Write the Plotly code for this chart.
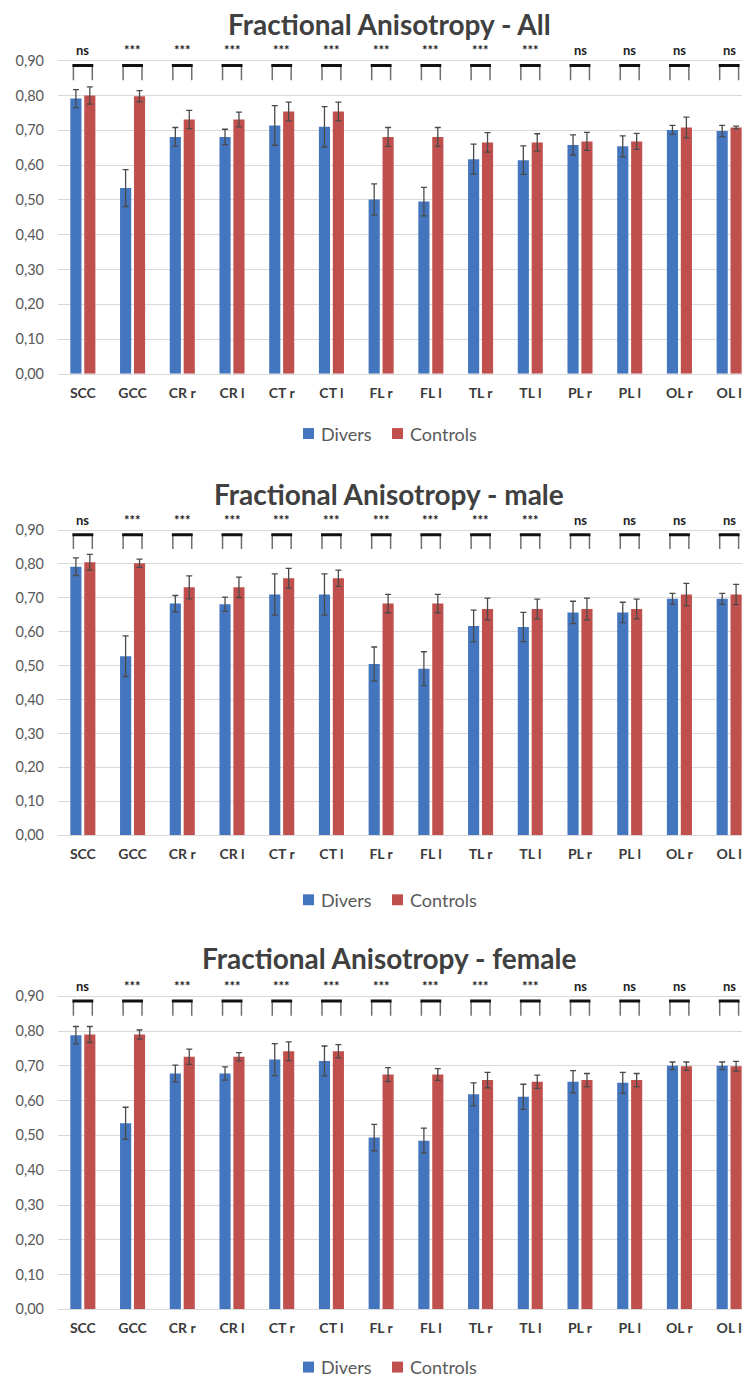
import plotly.graph_objects as go

W, H = 750, 1378

categories = ["SCC", "GCC", "CR r", "CR l", "CT r", "CT l", "FL r", "FL l",
              "TL r", "TL l", "PL r", "PL l", "OL r", "OL l"]
significance = ["ns", "***", "***", "***", "***", "***", "***", "***",
                "***", "***", "ns", "ns", "ns", "ns"]
y_ticks = [0.0, 0.1, 0.2, 0.3, 0.4, 0.5, 0.6, 0.7, 0.8, 0.9]
series_names = ["Divers", "Controls"]

titles = ["Fractional Anisotropy - All",
          "Fractional Anisotropy - male",
          "Fractional Anisotropy - female"]

# ---- All
all_divers = [0.791, 0.534, 0.681, 0.681, 0.714, 0.710, 0.501, 0.495, 0.617, 0.614, 0.658, 0.654, 0.701, 0.698]
all_divers_err = [0.026, 0.053, 0.027, 0.022, 0.057, 0.058, 0.045, 0.041, 0.043, 0.041, 0.029, 0.030, 0.013, 0.016]
all_controls = [0.800, 0.798, 0.731, 0.731, 0.754, 0.754, 0.681, 0.681, 0.665, 0.665, 0.668, 0.668, 0.708, 0.708]
all_controls_err = [0.025, 0.016, 0.026, 0.021, 0.027, 0.027, 0.027, 0.027, 0.028, 0.025, 0.026, 0.023, 0.030, 0.004]

# ---- male
male_divers = [0.792, 0.528, 0.683, 0.681, 0.710, 0.710, 0.505, 0.491, 0.617, 0.614, 0.657, 0.657, 0.697, 0.697]
male_divers_err = [0.026, 0.060, 0.024, 0.021, 0.061, 0.061, 0.050, 0.050, 0.047, 0.043, 0.033, 0.030, 0.016, 0.016]
male_controls = [0.805, 0.802, 0.731, 0.731, 0.758, 0.758, 0.683, 0.683, 0.667, 0.667, 0.667, 0.667, 0.710, 0.710]
male_controls_err = [0.023, 0.012, 0.034, 0.030, 0.029, 0.024, 0.027, 0.027, 0.032, 0.029, 0.032, 0.029, 0.033, 0.030]

# ---- female
female_divers = [0.788, 0.535, 0.678, 0.678, 0.718, 0.714, 0.494, 0.485, 0.618, 0.611, 0.654, 0.651, 0.700, 0.700]
female_divers_err = [0.025, 0.046, 0.024, 0.019, 0.046, 0.043, 0.038, 0.036, 0.033, 0.036, 0.032, 0.030, 0.011, 0.011]
female_controls = [0.790, 0.790, 0.726, 0.726, 0.742, 0.742, 0.675, 0.675, 0.659, 0.654, 0.659, 0.659, 0.699, 0.699]
female_controls_err = [0.023, 0.013, 0.022, 0.012, 0.027, 0.019, 0.020, 0.017, 0.022, 0.019, 0.019, 0.019, 0.012, 0.014]

panels = [
    (all_divers, all_divers_err, all_controls, all_controls_err),
    (male_divers, male_divers_err, male_controls, male_controls_err),
    (female_divers, female_divers_err, female_controls, female_controls_err),
]

BLUE = "#4376BF"
RED = "#C0504D"
GRID = "#D9D9D9"
TXT = "#595959"
FONT = "Lato, 'Open Sans', sans-serif"

YMAX = 0.96
geo = [
    dict(top=368 - YMAX * 350, bottom=368, title=16, legend=428),
    dict(top=832 - YMAX * 341, bottom=832, title=489, legend=897),
    dict(top=1309 - YMAX * 350, bottom=1309, title=956, legend=1367),
]
X0, X1 = 50, 746

fig = go.Figure()
layout = dict(
    width=W, height=H,
    margin=dict(l=0, r=0, t=0, b=0),
    paper_bgcolor="white", plot_bgcolor="white",
    separators=", ",
    barmode="group", bargap=0.44, bargroupgap=0.2,
    font=dict(family=FONT, color=TXT),
    showlegend=False,
    shapes=[], annotations=[],
)

for k, (dv, dve, cv, cve) in enumerate(panels):
    n = "" if k == 0 else str(k + 1)
    xa, ya = "x" + n, "y" + n
    g = geo[k]
    for name, vals, errs, col in ((series_names[0], dv, dve, BLUE), (series_names[1], cv, cve, RED)):
        fig.add_trace(go.Bar(
            x=categories, y=vals, name=name, marker=dict(color=col, line=dict(width=0)),
            error_y=dict(type="data", array=errs, visible=True, color="#4A4A4A", thickness=1.3, width=3),
            xaxis=xa, yaxis=ya))

    dom_y = [1 - g["bottom"] / H, 1 - g["top"] / H]
    layout["xaxis" + n] = dict(
        domain=[X0 / W, X1 / W], anchor=ya, type="category",
        showgrid=False, showline=True, linecolor=GRID, linewidth=1,
        ticks="", ticklabelstandoff=6,
        tickfont=dict(family=FONT, size=14, color="#3A3A3A", weight="bold"),
        fixedrange=True,
    )
    layout["yaxis" + n] = dict(
        domain=dom_y, anchor=xa, range=[0, YMAX],
        tickvals=y_ticks, tickformat=".2f",
        showgrid=True, gridcolor=GRID, gridwidth=1, zeroline=False,
        showline=False, ticks="", ticklabelstandoff=13,
        tickfont=dict(family=FONT, size=14.5, color=TXT),
        fixedrange=True,
    )
    layout["annotations"].append(dict(
        text="<b>" + titles[k] + "</b>", xref="paper", yref="paper",
        x=381 / W, y=1 - g["title"] / H, xanchor="center", yanchor="middle",
        showarrow=False, font=dict(family=FONT, size=28, color="#404040")))

    # manual legend (square + label)
    ly = 1 - g["legend"] / H
    for (sx, tx, name, col) in ((295, 311, series_names[0], BLUE), (384, 400, series_names[1], RED)):
        layout["shapes"].append(dict(
            type="rect", xref="paper", yref="paper",
            x0=sx / W, x1=(sx + 11) / W, y0=ly - 5.5 / H, y1=ly + 5.5 / H,
            fillcolor=col, line=dict(width=0)))
        layout["annotations"].append(dict(
            text=name, xref="paper", yref="paper", x=tx / W, y=ly,
            xanchor="left", yanchor="middle", showarrow=False,
            font=dict(family=FONT, size=18, color=TXT)))

    # significance brackets and labels
    for i, s in enumerate(significance):
        for dx in (-0.19, 0.19):
            layout["shapes"].append(dict(
                type="line", xref=xa, yref=ya, x0=i + dx, x1=i + dx, y0=0.844, y1=0.886,
                line=dict(color="#707070", width=1.5)))
        layout["shapes"].append(dict(
            type="line", xref=xa, yref=ya, x0=i - 0.21, x1=i + 0.21, y0=0.886, y1=0.886,
            line=dict(color="#111111", width=3)))
        layout["annotations"].append(dict(
            text="<b>" + s + "</b>", xref=xa, yref=ya, x=categories[i], y=0.93,
            showarrow=False, xanchor="center", yanchor="middle",
            font=dict(family=FONT, size=13, color="#222222")))

fig.update_layout(**layout)
fig.write_html("out.html")
